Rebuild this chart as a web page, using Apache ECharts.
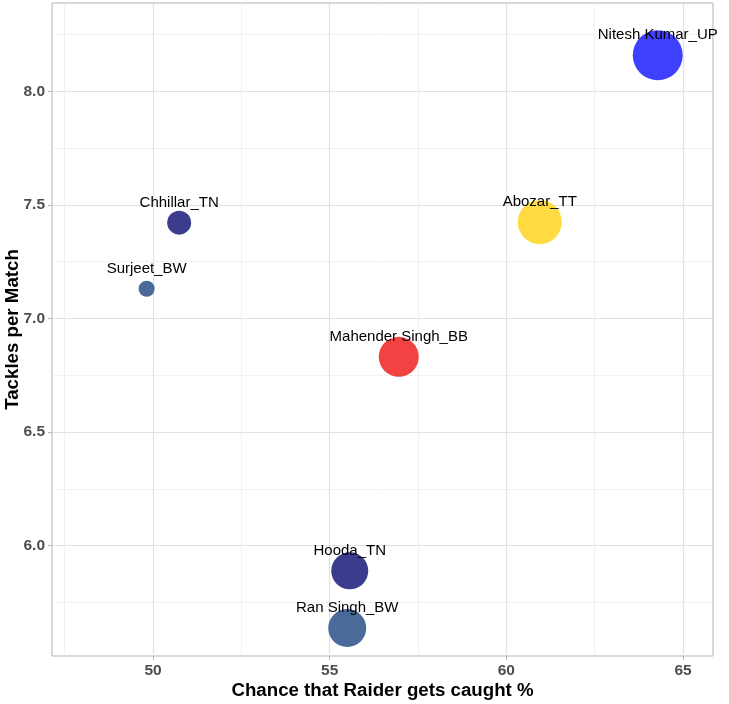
<!DOCTYPE html>
<html>
<head>
<meta charset="utf-8">
<script src="https://cdn.jsdelivr.net/npm/echarts@6/dist/echarts.min.js"></script>
<style>
html,body{margin:0;padding:0;background:#fff;}
#chart{width:729px;height:704px;}
</style>
</head>
<body>
<div id="chart"></div>
<script>
const players = ["Nitesh Kumar_UP", "Abozar_TT", "Chhillar_TN", "Surjeet_BW", "Mahender Singh_BB", "Hooda_TN", "Ran Singh_BW"];
const caughtPct = [64.285, 60.945, 50.74, 49.82, 56.955, 55.568, 55.497];
const tacklesPerMatch = [8.159, 7.424, 7.422, 7.131, 6.831, 5.889, 5.637];
const bubbleValue = [50, 44, 24, 16, 40, 37, 38];
const playerColors = ["#4040ff", "#ffda40", "#3c3c8c", "#4a6a99", "#f24242", "#3c3c8c", "#4a6a99"];
const xTicks = [50, 55, 60, 65];
const yTicks = [6.0, 6.5, 7.0, 7.5, 8.0];

const data = players.map((p, i) => ({
  name: p,
  value: [caughtPct[i], tacklesPerMatch[i], bubbleValue[i]],
  itemStyle: { color: playerColors[i] }
}));

const chart = echarts.init(document.getElementById('chart'), null, { renderer: 'canvas' });
const gridColor = '#e2e2e2';
const minorColor = '#eeeeee';
const borderColor = '#b3b3b3';
const font = 'Liberation Sans, Arial, sans-serif';
chart.setOption({
  animation: false,
  backgroundColor: '#ffffff',
  grid: {
    left: 52, right: 16, top: 3, bottom: 48,
    containLabel: false,
    outerBoundsMode: 'none',
    show: true, borderColor: borderColor, borderWidth: 1, backgroundColor: 'transparent'
  },
  xAxis: {
    type: 'value',
    min: 47.141, max: 65.849,
    minInterval: 5, maxInterval: 5,
    name: 'Chance that Raider gets caught %',
    nameLocation: 'middle',
    nameGap: 25,
    nameMoveOverlap: false,
    nameTextStyle: { fontFamily: font, fontWeight: 'bold', fontSize: 18.7, color: '#000' },
    axisLine: { show: false },
    axisTick: { show: true, length: 4, lineStyle: { color: borderColor }, customValues: xTicks },
    axisLabel: {
      customValues: xTicks,
      margin: 7,
      fontFamily: font, fontWeight: 'bold', fontSize: 15.5, color: '#4d4d4d',
      formatter: v => String(v)
    },
    splitLine: { show: true, lineStyle: { color: gridColor, width: 1.2 } },
    minorTick: { show: false, splitNumber: 2 },
    minorSplitLine: { show: true, lineStyle: { color: minorColor, width: 0.8 } }
  },
  yAxis: {
    type: 'value',
    min: 5.514, max: 8.389,
    minInterval: 0.5, maxInterval: 0.5,
    name: 'Tackles per Match',
    nameLocation: 'middle',
    nameGap: 30,
    nameRotate: 90,
    nameMoveOverlap: false,
    nameTextStyle: { fontFamily: font, fontWeight: 'bold', fontSize: 18.7, color: '#000' },
    axisLine: { show: false },
    axisTick: { show: true, length: 4, lineStyle: { color: borderColor }, customValues: yTicks },
    axisLabel: {
      customValues: yTicks,
      margin: 7,
      fontFamily: font, fontWeight: 'bold', fontSize: 15.5, color: '#4d4d4d',
      formatter: v => Number(v).toFixed(1)
    },
    splitLine: { show: true, lineStyle: { color: gridColor, width: 1.2 } },
    minorTick: { show: false, splitNumber: 2 },
    minorSplitLine: { show: true, lineStyle: { color: minorColor, width: 0.8 } }
  },
  series: [{
    type: 'scatter',
    data: data,
    symbol: 'circle',
    symbolSize: v => v[2],
    itemStyle: { opacity: 1 },
    label: {
      show: true,
      position: 'inside',
      offset: [0, -20],
      formatter: p => p.name,
      fontFamily: font,
      fontSize: 15,
      color: '#000'
    },
    emphasis: { disabled: true }
  }]
});
</script>
</body>
</html>
